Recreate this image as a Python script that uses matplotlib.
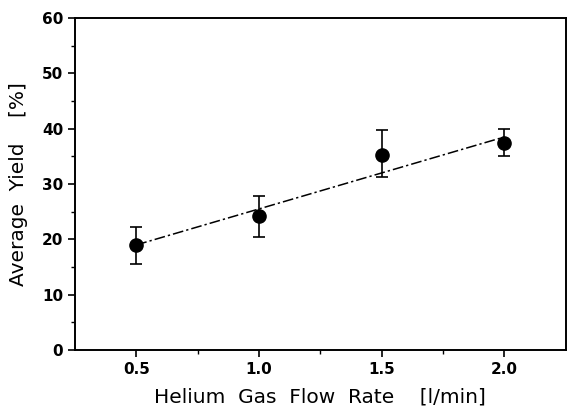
import numpy as np
import matplotlib
matplotlib.use('Agg')
import matplotlib.pyplot as plt

# Average yield vs helium gas flow rate
flow = [0.5, 1.0, 1.5, 2.0]
yield_avg = [19.0, 24.2, 35.3, 37.4]
err_low = [15.6, 20.4, 31.2, 35.0]
err_high = [22.2, 27.8, 39.7, 40.0]

# fitted line end points
fit_x = [0.5, 2.0]
fit_y = [19.0, 38.5]

yerr = [np.array(yield_avg) - np.array(err_low), np.array(err_high) - np.array(yield_avg)]

fig = plt.figure(figsize=(5.68, 4.08), dpi=100)
ax = fig.add_axes([0.132, 0.142, 0.864, 0.814])

ax.plot(fit_x, fit_y, color='black', linestyle=(0, (7, 2, 1.5, 2)), linewidth=1.1)
ax.errorbar(flow, yield_avg, yerr=yerr, fmt='o', color='black', markersize=9.5,
            capsize=4, elinewidth=1.2, capthick=1.2)

ax.set_xlim(0.25, 2.25)
ax.set_ylim(0, 60)
ax.set_xticks([0.5, 1.0, 1.5, 2.0])
ax.set_xticklabels(['0.5', '1.0', '1.5', '2.0'])
ax.set_xticks([0.75, 1.25, 1.75], minor=True)
ax.set_yticks(np.arange(0, 61, 10))
ax.set_yticks(np.arange(5, 60, 10), minor=True)

for s in ax.spines.values():
    s.set_linewidth(1.4)
ax.tick_params(which='major', direction='out', length=5, width=1.2, labelsize=11)
ax.tick_params(which='minor', direction='out', length=3, width=1.0)
for lbl in ax.get_xticklabels() + ax.get_yticklabels():
    lbl.set_fontweight('bold')

ax.set_xlabel('Helium  Gas  Flow  Rate    [l/min]', fontsize=14.5, labelpad=8)
ax.set_ylabel('Average  Yield    [%]', fontsize=14.5, labelpad=10)

fig.savefig('out.png', dpi=100)
